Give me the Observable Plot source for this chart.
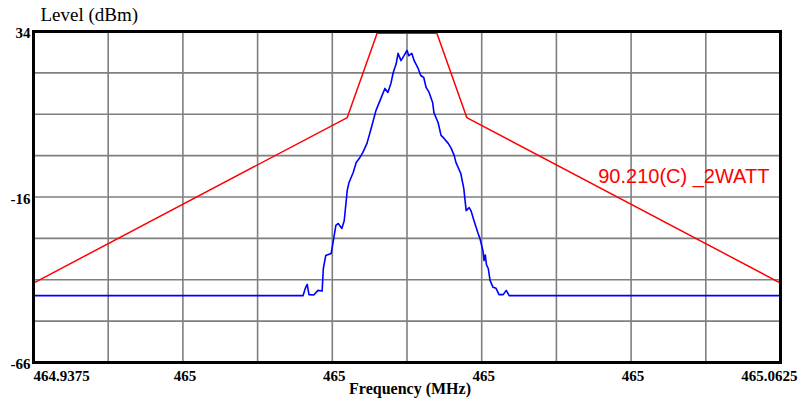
<!DOCTYPE html>
<html>
<head>
<meta charset="utf-8">
<script src="https://cdn.jsdelivr.net/npm/d3@7"></script>
<script src="https://cdn.jsdelivr.net/npm/@observablehq/plot@0.6"></script>
<style>
  html, body { margin: 0; padding: 0; background: #fff; }
</style>
</head>
<body>
<div id="chart"></div>
<script>
// Channel centre and span (MHz)
const centerMHz = 465.0;
const spanMHz = [464.9375, 465.0625];
const levelRange = [-66, 34];

// Measured spectrum: offset from centre (kHz), level (dBm)
const traceOffsetKHz = [-62.5, -17.4, -17.0, -16.7, -16.4, -15.6, -14.9, -14.2, -14.0, -13.6, -12.7, -12.4, -11.9, -11.5, -10.9, -10.5, -10.0, -9.7, -9.0, -8.5, -8.0, -7.4, -6.7, -6.0, -5.2, -4.3, -3.7, -3.2, -2.7, -2.3, -1.8, -1.5, -1.0, -0.5, 0.0, 0.3, 0.8, 1.2, 1.8, 2.3, 2.8, 3.2, 3.7, 4.3, 4.5, 5.2, 5.7, 6.2, 6.9, 7.4, 7.9, 8.2, 9.0, 9.5, 9.9, 10.4, 10.7, 11.2, 11.9, 12.2, 12.7, 12.9, 13.1, 13.3, 13.6, 13.9, 14.4, 14.9, 15.4, 16.1, 16.6, 17.1, 62.5];
const traceLevel = [-45.8, -45.8, -43.5, -42.4, -45.5, -45.6, -44.2, -44.4, -37.6, -33.7, -33.1, -30.0, -24.6, -24.0, -25.5, -23.1, -14.0, -11.6, -8.6, -5.6, -4.4, -2.6, 0.2, 4.7, 10.1, 14.1, 16.8, 15.6, 18.3, 21.6, 24.3, 27.4, 25.2, 26.7, 28.3, 26.7, 27.4, 25.2, 23.1, 20.7, 20.1, 17.1, 15.6, 12.5, 9.5, 6.5, 2.6, 1.7, 0.2, -1.3, -3.5, -5.6, -8.9, -13.4, -20.1, -19.2, -20.1, -23.1, -27.0, -28.5, -32.2, -35.2, -33.5, -36.5, -37.6, -41.2, -43.3, -43.6, -45.5, -45.5, -44.2, -45.8, -45.8];

// Emission mask 90.210(C) for 2 W: offset (kHz), limit (dBm)
const maskOffsetKHz = [-62.5, -10, -5, 5, 10, 62.5];
const maskLevel = [-42, 8, 33.5, 33.5, 8, -42];
const maskName = "90.210(C) _2WATT";
const maskLabelAt = { offsetKHz: 32.0, level: -11.9 };

// Axis ticks and grid
const xTicks = [464.9375, 464.9625, 464.9875, 465.0125, 465.0375, 465.0625];
const xTickLabels = ["464.9375", "465", "465", "465", "465", "465.0625"];
const xGrid = d3.range(11).map(i => 464.9375 + i * 0.0125);
const yTicks = [34, -16, -66];
const yGrid = d3.range(9).map(i => -66 + i * 12.5);

const toMHz = k => centerMHz + k / 1000;
const trace = traceOffsetKHz.map((k, i) => ({ f: toMHz(k), level: traceLevel[i] }));
const mask = maskOffsetKHz.map((k, i) => ({ f: toMHz(k), level: maskLevel[i] }));

const serif = "'Liberation Serif', 'Times New Roman', serif";
const tickFont = { fontSize: 15, fontWeight: "bold", fill: "#000" };

const chart = Plot.plot({
  width: 799,
  height: 404,
  marginLeft: 33,
  marginRight: 19,
  marginTop: 31,
  marginBottom: 42,
  style: { background: "#fff", fontFamily: serif, overflow: "visible" },
  x: { domain: spanMHz, axis: null },
  y: { domain: levelRange, axis: null },
  marks: [
    Plot.gridX(xGrid, { stroke: "#7f7f7f", strokeOpacity: 1, strokeWidth: 1.6 }),
    Plot.gridY(yGrid, { stroke: "#7f7f7f", strokeOpacity: 1, strokeWidth: 1.6 }),
    Plot.line(mask, { x: "f", y: "level", stroke: "#ff0000", strokeWidth: 1.5 }),
    Plot.line(trace, { x: "f", y: "level", stroke: "#0000ff", strokeWidth: 1.6 }),
    Plot.frame({ stroke: "#000", strokeWidth: 3 }),
    // x tick labels
    Plot.text([0], { x: i => xTicks[i], text: i => xTickLabels[i], frameAnchor: "bottom", textAnchor: "start", dy: 18, ...tickFont }),
    Plot.text([1, 2, 3, 4], { x: i => xTicks[i], text: i => xTickLabels[i], frameAnchor: "bottom", textAnchor: "middle", dx: 2, dy: 18, ...tickFont }),
    Plot.text([5], { x: i => xTicks[i], text: i => xTickLabels[i], frameAnchor: "bottom", textAnchor: "end", dx: 17, dy: 18, ...tickFont }),
    // y tick labels
    Plot.text(yTicks, { y: d => d, text: d => String(d), frameAnchor: "left", textAnchor: "end", dx: -3, dy: 2, ...tickFont }),
    // axis titles
    Plot.text(["Level (dBm)"], { text: d => d, frameAnchor: "top-left", textAnchor: "start", lineAnchor: "bottom", dx: 7, dy: -11, fontSize: 19, fill: "#000" }),
    Plot.text(["Frequency (MHz)"], { text: d => d, frameAnchor: "bottom", textAnchor: "middle", dx: 3, dy: 31, fontSize: 16, fontWeight: "bold", fill: "#000" }),
    // mask name
    Plot.text([maskLabelAt], { x: d => toMHz(d.offsetKHz), y: d => d.level, text: () => maskName, textAnchor: "start", lineAnchor: "bottom", fontSize: 20, fontFamily: "'Liberation Sans', Arial, sans-serif", fill: "#ff0000" })
  ]
});

document.getElementById("chart").appendChild(chart);
</script>
</body>
</html>
